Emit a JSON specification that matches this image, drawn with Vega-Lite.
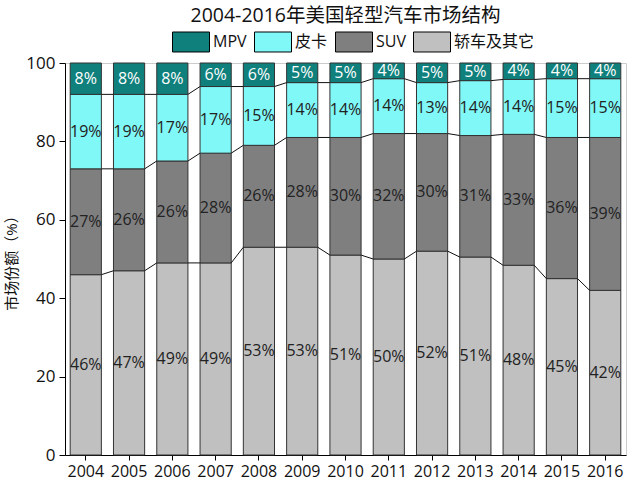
{
  "$schema": "https://vega.github.io/schema/vega-lite/v6.json",
  "width": 561,
  "height": 392,
  "autosize": {"type": "none"},
  "padding": {"left": 65, "top": 63, "right": 14, "bottom": 35},
  "background": "white",
  "config": {
    "font": "Open Sans, Noto Sans CJK SC",
    "view": {"stroke": "#cccccc"}
  },
  "title": {
    "text": "2004-2016年美国轻型汽车市场结构",
    "fontSize": 19.5,
    "fontWeight": "normal",
    "color": "#111111",
    "anchor": "middle",
    "offset": -3
  },
  "data": {
    "values": [
      {"year": "2004", "cat": "轿车及其它", "share": 0.46}, {"year": "2004", "cat": "SUV", "share": 0.27}, {"year": "2004", "cat": "皮卡", "share": 0.19}, {"year": "2004", "cat": "MPV", "share": 0.08},
      {"year": "2005", "cat": "轿车及其它", "share": 0.47}, {"year": "2005", "cat": "SUV", "share": 0.26}, {"year": "2005", "cat": "皮卡", "share": 0.19}, {"year": "2005", "cat": "MPV", "share": 0.08},
      {"year": "2006", "cat": "轿车及其它", "share": 0.49}, {"year": "2006", "cat": "SUV", "share": 0.26}, {"year": "2006", "cat": "皮卡", "share": 0.17}, {"year": "2006", "cat": "MPV", "share": 0.08},
      {"year": "2007", "cat": "轿车及其它", "share": 0.49}, {"year": "2007", "cat": "SUV", "share": 0.28}, {"year": "2007", "cat": "皮卡", "share": 0.17}, {"year": "2007", "cat": "MPV", "share": 0.06},
      {"year": "2008", "cat": "轿车及其它", "share": 0.53}, {"year": "2008", "cat": "SUV", "share": 0.26}, {"year": "2008", "cat": "皮卡", "share": 0.15}, {"year": "2008", "cat": "MPV", "share": 0.06},
      {"year": "2009", "cat": "轿车及其它", "share": 0.53}, {"year": "2009", "cat": "SUV", "share": 0.28}, {"year": "2009", "cat": "皮卡", "share": 0.14}, {"year": "2009", "cat": "MPV", "share": 0.05},
      {"year": "2010", "cat": "轿车及其它", "share": 0.51}, {"year": "2010", "cat": "SUV", "share": 0.30}, {"year": "2010", "cat": "皮卡", "share": 0.14}, {"year": "2010", "cat": "MPV", "share": 0.05},
      {"year": "2011", "cat": "轿车及其它", "share": 0.50}, {"year": "2011", "cat": "SUV", "share": 0.32}, {"year": "2011", "cat": "皮卡", "share": 0.14}, {"year": "2011", "cat": "MPV", "share": 0.04},
      {"year": "2012", "cat": "轿车及其它", "share": 0.52}, {"year": "2012", "cat": "SUV", "share": 0.30}, {"year": "2012", "cat": "皮卡", "share": 0.13}, {"year": "2012", "cat": "MPV", "share": 0.05},
      {"year": "2013", "cat": "轿车及其它", "share": 0.505}, {"year": "2013", "cat": "SUV", "share": 0.31}, {"year": "2013", "cat": "皮卡", "share": 0.14}, {"year": "2013", "cat": "MPV", "share": 0.045},
      {"year": "2014", "cat": "轿车及其它", "share": 0.484}, {"year": "2014", "cat": "SUV", "share": 0.334}, {"year": "2014", "cat": "皮卡", "share": 0.14}, {"year": "2014", "cat": "MPV", "share": 0.042},
      {"year": "2015", "cat": "轿车及其它", "share": 0.45}, {"year": "2015", "cat": "SUV", "share": 0.36}, {"year": "2015", "cat": "皮卡", "share": 0.15}, {"year": "2015", "cat": "MPV", "share": 0.04},
      {"year": "2016", "cat": "轿车及其它", "share": 0.42}, {"year": "2016", "cat": "SUV", "share": 0.39}, {"year": "2016", "cat": "皮卡", "share": 0.15}, {"year": "2016", "cat": "MPV", "share": 0.04}
    ]
  },
  "transform": [
    {"calculate": "indexof(['轿车及其它','SUV','皮卡','MPV'], datum.cat)", "as": "ord"},
    {"stack": "share", "groupby": ["year"], "sort": [{"field": "ord", "order": "ascending"}], "as": ["lo", "hi"]},
    {"calculate": "(datum.lo + datum.hi) / 2", "as": "mid"}
  ],
  "layer": [
    {
      "mark": {"type": "bar", "stroke": "#333333", "strokeWidth": 1},
      "encoding": {
        "x": {
          "field": "year", "type": "ordinal",
          "scale": {"type": "band", "paddingInner": 0.28, "paddingOuter": 0.12},
          "axis": {"title": null, "labelAngle": 0, "labelFontSize": 16, "labelColor": "#111111", "domainColor": "#000000", "tickColor": "#000000", "tickSize": 5, "labelPadding": 3, "bandPosition": 0.5, "labelAlign": "center"}
        },
        "y": {
          "field": "lo", "type": "quantitative",
          "scale": {"domain": [0, 1], "nice": false},
          "axis": {
            "title": "市场份额（%）", "titleFontSize": 15, "titleFontWeight": "normal", "titleColor": "#111111", "titlePadding": 6,
            "values": [0, 0.05, 0.1, 0.15, 0.2, 0.25, 0.3, 0.35, 0.4, 0.45, 0.5, 0.55, 0.6, 0.65, 0.7, 0.75, 0.8, 0.85, 0.9, 0.95, 1],
            "labelExpr": "round(datum.value*100) % 10 === 0 ? format(datum.value*100, '.0f') : ''",
            "tickSize": {"condition": {"test": "round(datum.value*100) % 10 === 0", "value": 6}, "value": 3},
            "labelFontSize": 17, "labelColor": "#111111", "labelPadding": 4,
            "domainColor": "#000000", "tickColor": "#000000", "grid": false
          }
        },
        "y2": {"field": "hi"},
        "color": {
          "field": "cat", "type": "nominal",
          "scale": {"domain": ["MPV", "皮卡", "SUV", "轿车及其它"], "range": ["#0f807c", "#80f8f8", "#7f7f80", "#c0c0c0"]},
          "legend": {
            "title": null, "orient": "none", "direction": "horizontal", "legendX": 107, "legendY": -40,
            "padding": 0,
            "symbolType": "M-1,-0.54H1V0.54H-1Z", "symbolSize": 1369,
            "symbolStrokeColor": "#000000", "symbolStrokeWidth": 1, "symbolOpacity": 1,
            "labelFontSize": 16, "labelColor": "#111111", "labelOffset": 3, "columnPadding": 5
          }
        }
      }
    },
    {
      "transform": [
        {"filter": "datum.cat !== 'MPV'"},
        {"window": [{"op": "lead", "field": "year", "as": "ny"}, {"op": "lead", "field": "hi", "as": "nhi"}], "groupby": ["cat"], "sort": [{"field": "year", "order": "ascending"}]},
        {"filter": "datum.ny != null"}
      ],
      "mark": {"type": "rule", "color": "#111111", "strokeWidth": 1},
      "encoding": {
        "x": {"field": "year", "type": "ordinal", "bandPosition": 1, "scale": {"type": "band"}},
        "x2": {"field": "ny", "bandPosition": 0},
        "y": {"field": "hi", "type": "quantitative"},
        "y2": {"field": "nhi"}
      }
    },
    {
      "mark": {"type": "text", "fontSize": 16, "align": "center", "baseline": "middle"},
      "encoding": {
        "x": {"field": "year", "type": "ordinal", "scale": {"type": "band"}},
        "y": {"field": "mid", "type": "quantitative"},
        "text": {"field": "share", "type": "quantitative", "format": ".0%"},
        "color": {"condition": {"test": "datum.cat === 'MPV'", "value": "#ffffff"}, "value": "#222222"}
      }
    }
  ]
}
